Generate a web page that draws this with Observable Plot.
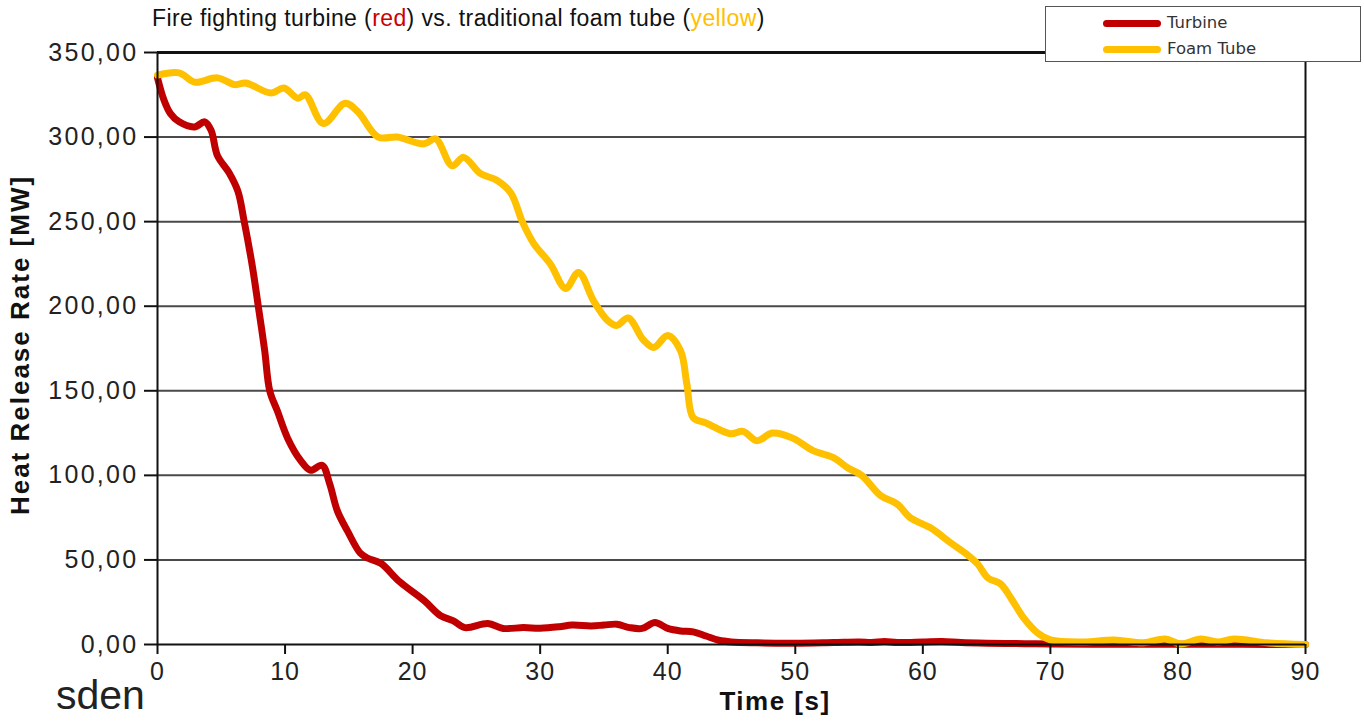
<!DOCTYPE html>
<html><head><meta charset="utf-8">
<script src="https://cdn.jsdelivr.net/npm/d3@7"></script>
<script src="https://cdn.jsdelivr.net/npm/@observablehq/plot@0.6"></script>
<style>
html,body{margin:0;padding:0;background:#fff;overflow:hidden;}
#wrap{position:relative;width:1364px;height:721px;overflow:hidden;font-family:'Liberation Sans',Arial,sans-serif;}
#chart{position:absolute;left:0;top:0;}
#title{position:absolute;left:152px;top:4px;font-size:23px;line-height:28px;color:#111;white-space:nowrap;letter-spacing:0.4px;}
#xlabel{position:absolute;left:775px;top:686px;transform:translateX(-50%);font-size:26px;font-weight:bold;letter-spacing:1.5px;color:#111;white-space:nowrap;line-height:30px;}
#ylabel{position:absolute;left:20px;top:345px;transform:translate(-50%,-50%) rotate(-90deg);font-size:26px;font-weight:bold;letter-spacing:2px;color:#111;white-space:nowrap;line-height:30px;}
#legend{position:absolute;left:1045px;top:6px;width:316px;height:56px;border:1.5px solid #555;background:#fff;box-sizing:border-box;font-family:'DejaVu Sans',sans-serif;}
.lg{position:absolute;left:57px;width:58px;height:7px;border-radius:4px;}
.lt{position:absolute;left:121px;font-size:16.5px;color:#333;line-height:20px;white-space:nowrap;}
#logo{position:absolute;left:56px;top:679px;font-size:41px;color:#222;line-height:33px;}
svg text{letter-spacing:2.3px;}
g[aria-label="x-axis tick label"] text{letter-spacing:1px;}
g[aria-label="y-axis tick"], g[aria-label="x-axis tick"]{stroke-width:2px;}
</style>
</head><body>
<div id="wrap">
  <div id="chart"></div>
  <div id="title"></div>
  <div id="legend"></div>
  <div id="xlabel"></div>
  <div id="ylabel"></div>
  <div id="logo">sden</div>
</div>
<script>
// ---- data ----
const turbineT = [0, 0.5, 1, 1.7, 2.9, 3.7, 4.2, 4.7, 5.6, 6.3, 6.8, 7.45, 7.9, 8.4, 8.8, 9.4, 10.2, 11.2, 12, 12.9, 13.5, 14.1, 14.9, 15.9, 16.5, 17.5, 19, 20.9, 22.2, 23.2, 24.1, 25.9, 27.1, 28.7, 30, 31.5, 32.5, 34, 35, 36, 37, 38, 39, 40, 41, 42, 43, 44, 45, 47, 50, 53, 55, 56, 57, 58, 60, 61.5, 63, 65, 68, 70, 75, 80, 85, 90];
const turbineV = [335, 322, 314, 309, 306, 309, 304, 289, 279, 268, 250, 223, 200, 174, 150, 138, 122, 109, 103, 106, 95, 79, 67, 54, 51, 48, 37, 26, 17, 14, 10, 12.4, 9.5, 10, 9.6, 10.5, 11.5, 11, 11.5, 12, 10, 9.5, 13, 9.5, 8, 7.5, 5, 2.5, 1.5, 1, 0.8, 1.2, 1.5, 1.2, 1.8, 1.2, 1.5, 1.8, 1.2, 0.8, 0.5, 0.3, 0.2, 0.2, 0.1, 0];
const foamT = [0, 1.7, 2.9, 4.7, 6.1, 6.9, 8.9, 9.9, 11, 11.6, 13, 14.7, 15.7, 17.3, 18.8, 20.9, 21.8, 23.1, 24, 25.3, 26.6, 27.7, 28.6, 29.5, 30.8, 32, 33, 34.2, 35.3, 36, 36.9, 38.1, 38.9, 40, 41, 41.5, 42, 43, 44.9, 45.9, 47, 48.2, 49.8, 51.4, 53, 54.1, 55.2, 56.7, 58, 59, 60.6, 62.2, 63.5, 64.3, 65.1, 66.1, 66.9, 67.9, 69, 70, 72.6, 75, 77.3, 79, 80.2, 81.8, 83.1, 84.4, 87, 90];
const foamV = [336.6, 338, 332.5, 335, 331, 332, 326, 329, 323, 325, 308, 320, 315, 300, 300, 296, 299, 283, 288, 278.5, 274.5, 267, 250, 237, 225, 210.5, 220, 203, 191.5, 188.6, 193, 180, 175.6, 182.7, 173.8, 154, 134, 131, 124.6, 126, 120.5, 125, 122, 114.6, 110.5, 104.5, 100, 88, 83, 75, 69, 60, 53, 47.6, 39.4, 35.8, 27.5, 15.7, 6.8, 2.7, 1.5, 2.7, 1, 3.3, 0.3, 3.3, 1.5, 3.3, 1, 0];
const yTicks = [0, 50, 100, 150, 200, 250, 300, 350];
const xTicks = [0, 10, 20, 30, 40, 50, 60, 70, 80, 90];
const seriesNames = ["Turbine", "Foam Tube"];
const seriesColors = ["#C00000", "#FFC000"];
const titleText = ["Fire fighting turbine (", "red", ") vs. traditional foam tube (", "yellow", ")"];
const xLabel = "Time [s]";
const yLabel = "Heat Release Rate [MW]";

// ---- build ----
const turbine = turbineT.map((t, i) => ({t, v: turbineV[i]}));
const foam = foamT.map((t, i) => ({t, v: foamV[i]}));
const fmt = d => d.toFixed(2).replace(".", ",");

const chart = Plot.plot({
  width: 1364, height: 721,
  marginLeft: 157, marginRight: 59, marginTop: 52, marginBottom: 77,
  x: {domain: [0, 90]},
  y: {domain: [0, 350]},
  style: {fontFamily: "'Liberation Sans', Arial, sans-serif", background: "white", color: "#222", overflow: "visible"},
  marks: [
    Plot.ruleY(yTicks.filter(d => d > 0 && d < 350), {stroke: "#4a4a4a", strokeWidth: 2}),
    Plot.ruleY([350], {stroke: "#111", strokeWidth: 3}),
    Plot.ruleX([90], {stroke: "#111", strokeWidth: 2}),
    Plot.line(turbine, {x: "t", y: "v", stroke: seriesColors[0], strokeWidth: 7, curve: "catmull-rom"}),
    Plot.line(foam, {x: "t", y: "v", stroke: seriesColors[1], strokeWidth: 7, curve: "catmull-rom"}),
    Plot.ruleX([0], {stroke: "#111", strokeWidth: 2}),
    Plot.ruleY([0], {stroke: "#111", strokeWidth: 2}),
    Plot.axisY({ticks: yTicks, tickFormat: fmt, tickSize: 13, tickPadding: 6, fontSize: 25, label: null, stroke: "#111"}),
    Plot.axisX({ticks: xTicks, tickSize: 10, tickPadding: 8, fontSize: 25, label: null, stroke: "#111"})
  ]
});
document.getElementById("chart").appendChild(chart);

// title
const title = document.getElementById("title");
titleText.forEach((s, i) => {
  const sp = document.createElement("span");
  sp.textContent = s;
  if (i === 1) sp.style.color = "#CC0000";
  if (i === 3) sp.style.color = "#FFC000";
  title.appendChild(sp);
});
document.getElementById("xlabel").textContent = xLabel;
document.getElementById("ylabel").textContent = yLabel;

// legend
const legend = document.getElementById("legend");
seriesNames.forEach((name, i) => {
  const ln = document.createElement("div");
  ln.className = "lg";
  ln.style.top = (13 + i * 26) + "px";
  ln.style.background = seriesColors[i];
  legend.appendChild(ln);
  const tx = document.createElement("div");
  tx.className = "lt";
  tx.style.top = (6 + i * 26) + "px";
  tx.textContent = name;
  legend.appendChild(tx);
});
</script>
</body></html>
